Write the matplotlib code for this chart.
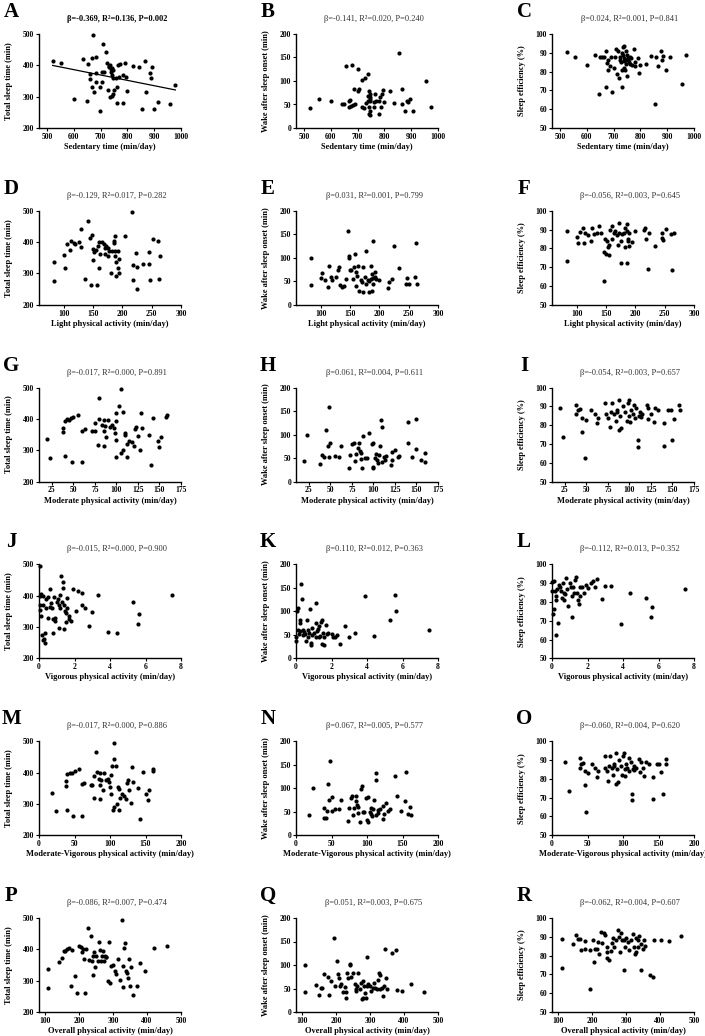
import numpy as np
import matplotlib
matplotlib.use('Agg')
import matplotlib.pyplot as plt

plt.rcParams['font.family'] = ['Liberation Serif', 'DejaVu Serif']

# ---- data (x, y per panel) ----
# row 1: sedentary time
a_x = [521, 552, 634, 652, 670, 709, 720, 667, 682, 600, 650, 696, 660, 662, 669, 675, 681, 684, 696, 706,
       704, 712, 725, 730, 733, 736, 738, 740, 742, 744, 746, 748, 727, 735, 741, 745, 750, 756, 760, 769,
       765, 771, 762, 785, 785, 796, 790, 800, 821, 842, 865, 871, 884, 887, 891, 856, 900, 915, 959, 979]
a_y = [414, 407, 421, 405, 498, 469, 444, 424, 426, 293, 285, 254, 373, 357, 332, 314, 348, 375, 330, 348,
       380, 380, 407, 398, 395, 400, 388, 378, 370, 392, 385, 360, 321, 300, 303, 310, 321, 359, 330, 362,
       401, 404, 280, 369, 280, 362, 407, 319, 399, 396, 414, 316, 375, 359, 396, 262, 262, 283, 277, 337]
b_x = [522, 555, 602, 640, 650, 655, 680, 700, 716, 729, 740, 688, 700, 705, 668, 672, 676, 668, 683, 690,
       716, 724, 732, 740, 743, 745, 745, 746, 747, 746, 743, 748, 741, 740, 761, 761, 767, 764, 780, 785,
       788, 780, 795, 790, 799, 820, 834, 855, 864, 867, 883, 888, 875, 894, 907, 955, 975]
b_y = [43, 61, 57, 51, 52, 131, 133, 125, 103, 106, 115, 83, 79, 82, 58, 60, 46, 45, 48, 50,
       44, 43, 53, 58, 79, 72, 66, 62, 58, 37, 30, 27, 44, 68, 45, 55, 58, 72, 58, 65,
       45, 30, 80, 73, 55, 78, 53, 159, 84, 51, 58, 55, 37, 62, 37, 100, 44]
c_x = [525, 555, 600, 630, 645, 650, 655, 665, 670, 670, 675, 680, 680, 685, 690, 695, 700, 705, 710, 712,
       715, 720, 722, 725, 728, 730, 730, 732, 735, 735, 737, 738, 740, 740, 742, 745, 745, 748, 750, 750,
       752, 755, 758, 760, 762, 765, 770, 775, 778, 780, 790, 795, 800, 820, 840, 855, 860, 865, 875, 880,
       885, 895, 910, 955, 970]
c_y = [90.5, 87.5, 83.5, 89, 68, 88, 87.5, 88, 91, 72, 84.5, 86, 81, 83, 88, 69, 82, 88, 92, 78.5,
       91, 76.5, 88, 86, 85, 90, 72, 81, 93, 89, 85.5, 82, 93.5, 87, 81, 91, 86, 84, 89, 77.5,
       87, 86, 85, 88, 84, 87, 83.5, 92, 85, 83, 87, 79, 83.5, 84, 88.5, 62.5, 88, 83, 91, 86,
       88.5, 81, 87.5, 73.5, 89]

# row 2: light physical activity
d_x = [83, 83, 100, 103, 105, 110, 113, 117, 120, 127, 130, 130, 137, 142, 145, 147, 149, 150, 150, 152,
       155, 157, 158, 160, 160, 162, 165, 168, 170, 170, 172, 175, 175, 178, 180, 183, 185, 185, 187, 188,
       188, 190, 190, 192, 193, 195, 195, 205, 216, 218, 218, 223, 225, 225, 235, 246, 246, 247, 253, 260,
       262, 265]
d_y = [336, 277, 358, 316, 393, 374, 403, 398, 395, 400, 386, 442, 282, 466, 413, 262, 423, 378, 344, 370,
       376, 262, 389, 402, 318, 362, 400, 393, 380, 362, 387, 356, 380, 371, 300, 372, 405, 398, 355, 373,
       420, 293, 335, 318, 372, 345, 302, 418, 495, 278, 326, 366, 252, 320, 330, 370, 330, 280, 410, 404,
       282, 355]
e_x = [83, 83, 100, 103, 107, 112, 115, 117, 120, 127, 130, 132, 133, 137, 140, 143, 147, 148, 149, 150,
       152, 155, 157, 158, 160, 160, 162, 163, 165, 168, 170, 172, 173, 175, 177, 178, 180, 182, 183, 185,
       185, 187, 188, 189, 190, 190, 192, 193, 195, 200, 215, 217, 222, 225, 234, 245, 247, 250, 260, 262,
       265]
e_y = [43, 100, 57, 67, 52, 37, 82, 60, 52, 59, 75, 80, 43, 38, 40, 55, 158, 100, 103, 75,
       73, 55, 80, 108, 70, 40, 62, 83, 30, 52, 48, 80, 27, 60, 45, 115, 53, 50, 28, 55,
       82, 30, 65, 45, 135, 58, 60, 70, 55, 52, 35, 48, 55, 125, 78, 45, 57, 45, 60, 132,
       45]
f_x = [83, 83, 100, 102, 105, 110, 112, 115, 120, 125, 127, 130, 135, 138, 142, 147, 147, 148, 150, 152,
       153, 155, 155, 157, 160, 160, 163, 165, 168, 170, 172, 173, 175, 175, 177, 180, 182, 183, 185, 185,
       186, 187, 188, 190, 190, 195, 200, 215, 217, 218, 222, 223, 233, 245, 246, 247, 252, 260, 262, 266]
f_y = [89, 73.5, 86, 83, 88.5, 91, 83, 88, 87, 84, 91, 87.5, 88, 92, 88, 78, 62.5, 85, 77, 84,
       81, 76.5, 82, 90, 85, 92, 88, 89, 87, 82, 93.5, 88, 84, 72, 87.5, 88, 81, 91, 93, 72,
       89, 85, 84, 88, 81.5, 83.5, 89, 90, 91, 85, 69, 88, 81.5, 88, 85.5, 84.5, 90.5, 87.5, 68.5, 88]

# row 3: moderate physical activity
g_x = [19, 23, 38, 38, 40, 40, 43, 45, 47, 48, 50, 55, 60, 60, 63, 72, 75, 75, 78, 80,
       80, 83, 85, 85, 85, 87, 88, 90, 92, 95, 97, 98, 100, 100, 100, 100, 103, 105, 105, 108,
       108, 110, 110, 112, 112, 115, 118, 120, 122, 123, 125, 127, 128, 130, 138, 140, 143, 148, 150, 152,
       158, 159]
g_y = [336, 276, 372, 357, 282, 395, 400, 398, 402, 262, 406, 412, 262, 362, 367, 360, 360, 388, 318, 467,
       401, 382, 398, 362, 314, 377, 343, 398, 375, 380, 370, 355, 333, 392, 420, 280, 442, 290, 495, 422,
       300, 355, 348, 280, 320, 330, 325, 315, 368, 375, 345, 302, 418, 370, 350, 253, 403, 330, 312, 343,
       405, 412]
h_x = [19, 23, 38, 40, 42, 45, 47, 48, 48, 50, 55, 60, 62, 72, 73, 75, 77, 78, 80, 82,
       83, 84, 85, 85, 87, 88, 90, 92, 95, 98, 99, 100, 100, 102, 103, 104, 105, 107, 108, 109,
       110, 110, 112, 113, 115, 120, 121, 122, 125, 128, 130, 140, 140, 145, 150, 150, 155, 160, 160]
h_y = [43, 100, 37, 57, 52, 110, 75, 158, 52, 82, 55, 52, 75, 30, 57, 80, 83, 43, 58, 72,
       83, 65, 60, 48, 28, 98, 50, 50, 103, 80, 32, 82, 28, 50, 58, 45, 40, 56, 75, 132,
       117, 42, 53, 47, 55, 35, 63, 45, 68, 52, 55, 127, 83, 52, 134, 70, 45, 60, 42]
i_x = [19, 23, 38, 38, 40, 42, 45, 45, 48, 50, 55, 60, 62, 63, 72, 73, 75, 77, 78, 80,
       82, 84, 85, 86, 88, 88, 89, 90, 92, 95, 97, 98, 100, 100, 101, 102, 104, 105, 107, 108,
       110, 110, 111, 112, 113, 115, 120, 121, 122, 125, 128, 130, 133, 140, 140, 145, 148, 150, 152, 158,
       159]
i_y = [89, 73.5, 86, 91, 88, 88.5, 84, 76.5, 62.5, 83, 88, 86, 81, 84, 92, 86, 84, 79, 87, 92,
       86, 82, 87, 88, 77.5, 93.5, 85, 78.5, 90, 87, 82, 92, 93.5, 85, 81.5, 88, 86, 91, 84, 89,
       72, 68.5, 85, 87, 84.5, 86, 90.5, 83.5, 89, 86, 81.5, 89, 88, 81, 69, 88, 88, 72, 83.5, 90.5,
       88]

# row 4: vigorous physical activity
j_x = [0.05, 0.05, 0.05, 0.05, 0.1, 0.1, 0.15, 0.2, 0.2, 0.25, 0.3, 0.35, 0.35, 0.4, 0.4, 0.5, 0.5, 0.6, 0.6, 0.7,
       0.75, 0.8, 0.8, 0.85, 0.9, 0.9, 1.0, 1.05, 1.1, 1.15, 1.2, 1.2, 1.25, 1.3, 1.35, 1.35, 1.4, 1.4, 1.45, 1.5,
       1.5, 1.55, 1.6, 1.7, 1.7, 1.8, 1.9, 2.1, 2.2, 2.4, 2.4, 2.6, 2.8, 3.0, 3.35, 3.9, 4.4, 5.3, 5.55, 5.65,
       7.5]
j_y = [495, 400, 370, 355, 335, 405, 275, 372, 260, 400, 262, 250, 280, 360, 390, 395, 330, 422, 365, 378,
       360, 280, 325, 395, 318, 330, 380, 388, 298, 370, 360, 402, 462, 380, 445, 425, 295, 370, 350, 345,
       315, 392, 360, 335, 325, 320, 420, 350, 415, 410, 370, 360, 302, 348, 402, 283, 280, 380, 310, 343,
       402]
k_x = [0.0, 0.0, 0.05, 0.1, 0.1, 0.15, 0.2, 0.2, 0.25, 0.3, 0.35, 0.4, 0.4, 0.45, 0.5, 0.55, 0.6, 0.65, 0.7, 0.75,
       0.8, 0.85, 0.85, 0.9, 0.9, 1.0, 1.1, 1.1, 1.15, 1.2, 1.25, 1.3, 1.3, 1.35, 1.4, 1.45, 1.45, 1.5, 1.55, 1.6,
       1.7, 1.75, 1.8, 2.0, 2.1, 2.2, 2.3, 2.5, 2.75, 3.0, 3.35, 3.9, 4.4, 5.3, 5.55, 5.65, 7.5]
k_y = [45, 37, 100, 108, 60, 52, 58, 75, 82, 158, 127, 50, 60, 57, 52, 37, 82, 60, 45, 55,
       105, 28, 33, 65, 50, 55, 118, 75, 45, 58, 62, 70, 45, 48, 78, 82, 30, 55, 28, 45,
       72, 52, 55, 52, 45, 45, 50, 30, 68, 45, 53, 132, 48, 82, 134, 100, 60]
l_x = [0.0, 0.0, 0.05, 0.1, 0.1, 0.15, 0.2, 0.2, 0.25, 0.3, 0.35, 0.4, 0.45, 0.5, 0.55, 0.6, 0.65, 0.7, 0.75, 0.8,
       0.85, 0.9, 1.0, 1.05, 1.1, 1.15, 1.2, 1.25, 1.3, 1.35, 1.4, 1.45, 1.5, 1.55, 1.6, 1.7, 1.8, 1.9, 2.0, 2.2,
       2.3, 2.4, 2.55, 2.8, 3.0, 3.3, 3.9, 4.4, 5.3, 5.55, 5.65, 7.5]
l_y = [86, 90.5, 73.5, 76.5, 91, 86, 83, 81, 62.5, 87, 69, 89, 88, 86, 82, 90, 81, 85, 84, 93,
       87, 78, 90, 88, 72, 83, 88, 85, 91.5, 93.5, 85, 81, 79, 88, 83, 88, 85, 89, 87.5, 90,
       91, 88, 92, 81.5, 88.5, 88.5, 68.5, 85, 82, 72, 77.5, 87]

# row 5: moderate-vigorous physical activity
m_x = [19, 24, 38, 38, 40, 40, 43, 46, 48, 50, 57, 60, 61, 64, 73, 75, 77, 78, 80, 81,
       84, 86, 86, 86, 88, 90, 92, 94, 97, 99, 100, 101, 102, 103, 104, 105, 106, 106, 109, 110,
       111, 112, 113, 114, 117, 120, 122, 124, 125, 127, 130, 131, 133, 140, 142, 146, 150, 153, 155, 160,
       161]
m_y = [336, 276, 372, 357, 282, 395, 400, 398, 262, 406, 412, 262, 362, 367, 360, 360, 388, 318, 467, 401,
       380, 398, 360, 314, 377, 343, 398, 375, 380, 370, 355, 333, 392, 420, 280, 442, 290, 495, 422, 300,
       355, 348, 280, 320, 330, 325, 315, 368, 375, 345, 302, 418, 370, 350, 253, 403, 330, 312, 343, 405,
       412]
n_x = [18, 24, 40, 40, 42, 43, 45, 47, 48, 50, 51, 55, 60, 63, 73, 75, 77, 79, 80, 82,
       85, 85, 86, 88, 88, 90, 92, 93, 95, 96, 98, 100, 101, 102, 104, 105, 106, 107, 109, 110,
       112, 113, 113, 115, 116, 118, 122, 123, 124, 127, 130, 133, 140, 142, 148, 153, 155, 158, 160, 162]
n_y = [43, 100, 37, 57, 37, 52, 110, 75, 158, 52, 82, 55, 55, 75, 30, 57, 80, 83, 43, 58,
       72, 83, 65, 60, 48, 28, 98, 105, 50, 50, 80, 32, 82, 28, 50, 58, 45, 40, 56, 75,
       117, 132, 42, 53, 47, 55, 35, 63, 45, 68, 52, 55, 127, 83, 52, 72, 134, 45, 60, 42]
o_x = [19, 24, 39, 40, 41, 44, 46, 46, 48, 51, 57, 61, 63, 65, 74, 75, 77, 79, 80, 82,
       84, 86, 87, 88, 90, 90, 91, 93, 94, 97, 99, 100, 102, 103, 103, 104, 106, 108, 109, 111,
       112, 113, 114, 115, 116, 118, 122, 124, 125, 128, 130, 133, 136, 142, 142, 148, 150, 153, 156, 160,
       161]
o_y = [89, 73.5, 86, 91, 88, 88.5, 84, 76.5, 62.5, 83, 88, 86, 81, 84, 92, 86, 84, 79, 87, 92,
       86, 82, 87, 88, 77.5, 93.5, 85, 78.5, 90, 87, 82, 92, 93.5, 85, 81.5, 88, 86, 91, 84, 89,
       72, 68.5, 85, 87, 84.5, 86, 90.5, 83.5, 89, 86, 81.5, 89, 88, 81, 69, 88, 88, 83.5, 72, 90.5,
       88]

# row 6: overall physical activity
p_x = [108, 108, 140, 150, 155, 160, 165, 170, 175, 178, 188, 195, 200, 205, 208, 212, 215, 218, 220, 225,
       230, 235, 238, 240, 242, 245, 247, 250, 255, 260, 262, 265, 268, 270, 272, 275, 278, 280, 285, 288,
       290, 295, 300, 305, 310, 315, 320, 325, 328, 330, 332, 335, 338, 340, 345, 348, 350, 352, 360, 370,
       378, 395, 420, 460]
p_y = [336, 276, 358, 372, 395, 395, 400, 405, 282, 398, 315, 262, 412, 408, 390, 400, 368, 262, 400, 467,
       365, 442, 362, 318, 380, 390, 345, 380, 362, 425, 398, 362, 380, 395, 362, 380, 375, 375, 298, 422,
       292, 348, 350, 330, 320, 370, 302, 495, 348, 280, 405, 420, 330, 325, 310, 370, 282, 345, 255, 283,
       355, 330, 405, 410]
q_x = [108, 108, 140, 150, 155, 160, 165, 175, 180, 185, 195, 198, 203, 205, 210, 212, 215, 220, 225, 228,
       230, 232, 235, 240, 242, 245, 250, 255, 258, 260, 262, 265, 270, 272, 275, 278, 280, 282, 285, 288,
       290, 292, 295, 300, 303, 308, 312, 315, 320, 322, 325, 328, 330, 335, 338, 340, 345, 348, 350, 365,
       375, 380, 395, 420, 460]
q_y = [100, 43, 57, 37, 52, 52, 80, 75, 37, 67, 158, 55, 108, 80, 72, 55, 60, 42, 53, 42,
       30, 82, 72, 102, 100, 75, 82, 60, 45, 50, 55, 82, 50, 62, 28, 30, 65, 55, 40, 30,
       117, 55, 60, 55, 45, 52, 62, 52, 48, 68, 82, 50, 78, 52, 33, 55, 134, 72, 50, 125,
       132, 47, 45, 60, 43]
r_x = [112, 112, 143, 153, 159, 163, 168, 180, 180, 193, 195, 203, 206, 210, 215, 218, 221, 225, 230, 235,
       237, 243, 243, 245, 250, 255, 260, 263, 265, 270, 277, 280, 282, 285, 288, 293, 295, 298, 300, 305,
       310, 315, 320, 323, 325, 328, 330, 335, 335, 338, 343, 345, 350, 353, 355, 370, 380, 383, 403, 425,
       462]
r_y = [89, 73.4, 86, 91, 88.8, 88.6, 83.2, 87.6, 83.7, 83.2, 62.5, 88.1, 76.6, 83.7, 83.7, 87.2, 81, 92.4, 86.9, 92,
       91, 84.8, 82, 78.9, 77.8, 82.4, 86.7, 89.5, 84.8, 88.1, 93.4, 90, 81.9, 91.8, 88.1, 72.2, 88.4, 84.8, 89.4, 87.2,
       82.8, 88.5, 91.3, 84.6, 81, 81.9, 89.5, 88.5, 84.6, 90.2, 72.2, 86, 83.7, 88.1, 84.9, 69.5, 68.6, 88.1, 88.5, 87.8,
       90.3]

letters = list('ABCDEFGHIJKLMNOPQR')
stats = ['β=-0.369, R²=0.136, P=0.002', 'β=-0.141, R²=0.020, P=0.240', 'β=0.024, R²=0.001, P=0.841',
         'β=-0.129, R²=0.017, P=0.282', 'β=0.031, R²=0.001, P=0.799', 'β=-0.056, R²=0.003, P=0.645',
         'β=-0.017, R²=0.000, P=0.891', 'β=0.061, R²=0.004, P=0.611', 'β=-0.054, R²=0.003, P=0.657',
         'β=-0.015, R²=0.000, P=0.900', 'β=0.110, R²=0.012, P=0.363', 'β=-0.112, R²=0.013, P=0.352',
         'β=-0.017, R²=0.000, P=0.886', 'β=0.067, R²=0.005, P=0.577', 'β=-0.060, R²=0.004, P=0.620',
         'β=-0.086, R²=0.007, P=0.474', 'β=0.051, R²=0.003, P=0.675', 'β=-0.062, R²=0.004, P=0.607']
xlabels = ['Sedentary time (min/day)', 'Light physical activity (min/day)',
           'Moderate physical activity (min/day)', 'Vigorous physical activity (min/day)',
           'Moderate-Vigorous physical activity (min/day)', 'Overall physical activity (min/day)']
ylabels = ['Total sleep time (min)', 'Wake after sleep onset (min)', 'Sleep efficiency (%)']

xs = [a_x, b_x, c_x, d_x, e_x, f_x, g_x, h_x, i_x, j_x, k_x, l_x, m_x, n_x, o_x, p_x, q_x, r_x]
ys = [a_y, b_y, c_y, d_y, e_y, f_y, g_y, h_y, i_y, j_y, k_y, l_y, m_y, n_y, o_y, p_y, q_y, r_y]

xlims = [(470, 1000), (58, 300), (10, 175), (0, 8), (0, 200), (82, 500)]
xticks = [np.arange(500, 1001, 100), np.arange(100, 301, 50), np.arange(25, 176, 25),
          np.arange(0, 9, 2), np.arange(0, 201, 50), np.arange(100, 501, 100)]
ylims = [(200, 500), (0, 200), (50, 100)]
yticks = [np.arange(200, 501, 100), np.arange(0, 201, 50), np.arange(50, 101, 10)]

# layout in pixels
W, H = 705, 1036
fig = plt.figure(figsize=(W / 100, H / 100), dpi=100)
col_left = [39, 296, 552]
ax_w = 142
ax_h = 94
row_top = 34
row_step = 176.8

for idx in range(18):
    r, c = idx // 3, idx % 3
    top = row_top + r * row_step
    left = col_left[c]
    ax = fig.add_axes([left / W, 1 - (top + ax_h) / H, ax_w / W, ax_h / H])
    ax.scatter(xs[idx], ys[idx], s=9, c='black', linewidths=0, zorder=3, clip_on=False)
    if idx == 0:
        k, b = np.polyfit(a_x, a_y, 1)
        xx = np.array([min(a_x), max(a_x)])
        ax.plot(xx, k * xx + b, color='black', lw=0.9)
    ax.set_xlim(*xlims[r])
    ax.set_ylim(*ylims[c])
    ax.set_xticks(xticks[r])
    ax.set_yticks(yticks[c])
    for s in ['top', 'right']:
        ax.spines[s].set_visible(False)
    for s in ['left', 'bottom']:
        ax.spines[s].set_linewidth(1.0)
    ax.tick_params(direction='out', length=2.5, width=0.8, labelsize=5.5, pad=1)
    for lab in ax.get_xticklabels() + ax.get_yticklabels():
        lab.set_fontweight('bold')
    ax.set_xlabel(xlabels[r], fontsize=6, fontweight='bold', labelpad=1.5)
    ax.set_ylabel(ylabels[c], fontsize=6, fontweight='bold')
    ax.yaxis.set_label_coords(-0.185, 0.5)
    ax.text(0.55, 1 + 15 / ax_h, stats[idx], transform=ax.transAxes, ha='center', va='center',
            fontsize=6, color='black' if idx == 0 else '#333333',
            fontweight='bold' if idx == 0 else 'normal')
    fig.text((left - 28) / W, 1 - (top - 22) / H, letters[idx], ha='center', va='center',
             fontsize=15, fontweight='bold')

fig.savefig('out.png', dpi=100)
